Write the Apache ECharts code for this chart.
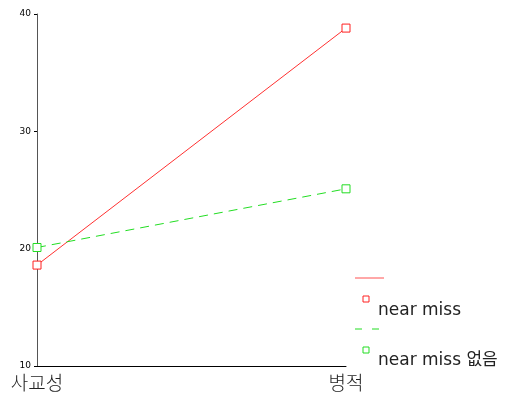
<!DOCTYPE html>
<html><head><meta charset="utf-8">
<script src="https://cdn.jsdelivr.net/npm/echarts@6/dist/echarts.min.js"></script>
<style>html,body{margin:0;padding:0;background:#fff}#c{width:514px;height:401px}</style>
</head><body><div id="c"></div>
<script>
const categories = ['사교성', '병적'];
const seriesNames = ['near miss', 'near miss 없음'];
const nearMiss = [18.6, 38.8];
const noNearMiss = [20.1, 25.1];
const yTicks = [10, 20, 30, 40];

const chart = echarts.init(document.getElementById('c'));
const font = '"DejaVu Sans", "Noto Sans CJK KR", sans-serif';
const cjk = '"Noto Sans CJK KR", sans-serif';
chart.setOption({
  animation: false,
  grid: {left: 37, right: 168, top: 14, bottom: 35},
  xAxis: {
    type: 'category', data: categories, boundaryGap: false,
    axisLine: {lineStyle: {color: '#000', width: 1}},
    axisTick: {show: false},
    axisLabel: {color: '#222', fontSize: 19, fontWeight: 300, fontFamily: cjk, margin: 7}
  },
  yAxis: {
    type: 'value', min: 10, max: 40, interval: 10,
    axisLine: {show: true, lineStyle: {color: '#555', width: 1}},
    axisTick: {show: true, length: 3, lineStyle: {color: '#000'}},
    splitLine: {show: false},
    axisLabel: {color: '#000', fontSize: 9, fontFamily: font, margin: 6,
      formatter: v => yTicks.includes(v) ? String(v) : ''}
  },
  series: [
    {name: seriesNames[0], type: 'line', data: nearMiss, symbol: 'rect', symbolSize: 8,
      lineStyle: {color: '#ff3030', width: 1},
      itemStyle: {color: '#fff', borderColor: '#ff2020', borderWidth: 1}},
    {name: seriesNames[1], type: 'line', data: noNearMiss, symbol: 'rect', symbolSize: 8,
      lineStyle: {color: '#22dd22', width: 1, type: [9, 6]},
      itemStyle: {color: '#fff', borderColor: '#22dd22', borderWidth: 1}}
  ],
  graphic: [
    {type: 'line', shape: {x1: 355, y1: 278, x2: 384, y2: 278}, style: {stroke: '#ff5050', lineWidth: 1}},
    {type: 'rect', shape: {x: 363, y: 296, width: 6, height: 6}, style: {fill: '#fff', stroke: '#ff2020', lineWidth: 1}},
    {type: 'text', left: 378, top: 302, style: {text: seriesNames[0], font: '17px ' + font, fill: '#222'}},
    {type: 'line', shape: {x1: 355, y1: 329, x2: 384, y2: 329}, style: {stroke: '#22dd22', lineWidth: 1, lineDash: [7, 10]}},
    {type: 'rect', shape: {x: 363, y: 347, width: 6, height: 6}, style: {fill: '#fff', stroke: '#22dd22', lineWidth: 1}},
    {type: 'text', left: 378, top: 352, style: {text: seriesNames[1], font: '17px ' + font, fill: '#222'}}
  ]
});
</script></body></html>
